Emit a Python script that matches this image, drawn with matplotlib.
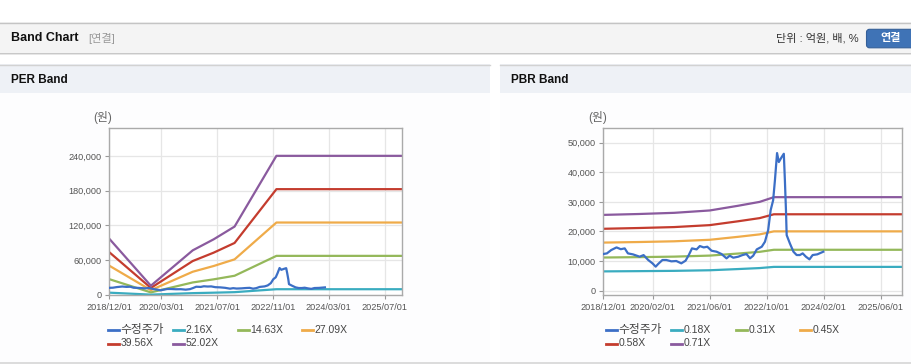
import matplotlib
matplotlib.use('Agg')
import matplotlib.pyplot as plt
from matplotlib.patches import Rectangle, FancyBboxPatch
from matplotlib.lines import Line2D

plt.rcParams['font.family'] = ['Liberation Sans', 'Noto Sans CJK KR', 'DejaVu Sans']

# ---------------- data ----------------
# x positions are months since 2018/12/01
per_tick_months = [0, 15, 31, 47, 63, 79]
per_tick_labels = ['2018/12/01', '2020/03/01', '2021/07/01', '2022/11/01', '2024/03/01', '2025/07/01']
pbr_tick_months = [0, 14, 30, 46, 62, 78]
pbr_tick_labels = ['2018/12/01', '2020/02/01', '2021/06/01', '2022/10/01', '2024/02/01', '2025/06/01']

price_months = [0, 1.1, 2.3, 3.8, 5, 6.1, 7, 8.4, 10.3, 11.4, 12.7, 13.9, 14.8, 15.5, 16.7, 17.8,
                19.2, 20.6, 22, 23.2, 24.1, 25, 26.3, 27.2, 28.3, 29.3, 30.5, 31.9, 33.3, 34.7,
                35.6, 36.6, 38, 39.2, 40.3, 41.3, 42.2, 43.2, 44.6, 45.5, 46.4, 47.1, 47.8, 48.3,
                48.9, 49.4, 50.2, 50.8, 51.1, 51.4, 51.6, 52.5, 53.5, 54.4, 55.3, 56.1, 57, 58,
                58.9, 60.2, 61.9]
price_values = [12360, 12580, 13700, 14600, 14000, 14270, 12580, 12250, 11460, 12000, 10340, 9210,
                8090, 9000, 10340, 10340, 9890, 10000, 9210, 10110, 12020, 14270, 13930, 15060,
                14600, 14830, 13480, 13150, 12360, 10900, 11800, 11120, 11460, 12020, 12360, 10900,
                11800, 13930, 14830, 16520, 20450, 27190, 30560, 37300, 46520, 43480, 45170, 46290,
                37300, 27190, 18760, 15960, 13150, 12020, 12020, 12580, 11460, 10560, 12020, 12250,
                13150]

per_band_months = [0, 12, 24, 30, 36, 48, 84]
per_labels = ['수정주가', '2.16X', '14.63X', '27.09X', '39.56X', '52.02X']
per_band_216 = [4050, 660, 3200, 3990, 4900, 9965, 9965]
per_band_1463 = [27450, 4500, 21650, 27000, 33180, 67490, 67490]
per_band_2709 = [50830, 8330, 40100, 50000, 61450, 124990, 124990]
per_band_3956 = [74220, 12170, 58560, 73010, 89740, 182520, 182520]
per_band_5202 = [97600, 16000, 77000, 96000, 118000, 240000, 240000]
per_yticks = [0, 60000, 120000, 180000, 240000]

pbr_band_months = [0, 10, 20, 30, 38, 44, 48, 84]
pbr_labels = ['수정주가', '0.18X', '0.31X', '0.45X', '0.58X', '0.71X']
pbr_band_018 = [6490, 6570, 6670, 6870, 7280, 7610, 8010, 8010]
pbr_band_031 = [11180, 11310, 11480, 11830, 12530, 13100, 13800, 13800]
pbr_band_045 = [16230, 16420, 16670, 17180, 18190, 19010, 20030, 20030]
pbr_band_058 = [20900, 21160, 21480, 22140, 23450, 24510, 25810, 25810]
pbr_band_071 = [25600, 25900, 26300, 27100, 28700, 30000, 31600, 31600]
pbr_yticks = [0, 10000, 20000, 30000, 40000, 50000]

colors = ['#3c6fc6', '#3aacc0', '#94b85a', '#efab49', '#c43c2e', '#8a5a9e']

# ---------------- figure ----------------
W, H = 912, 364
fig = plt.figure(figsize=(W / 100, H / 100), dpi=100)
fig.patch.set_facecolor('white')
bg = fig.add_axes([0, 0, 1, 1])
bg.set_xlim(0, W)
bg.set_ylim(H, 0)
bg.axis('off')

# top header bar
bg.add_patch(Rectangle((0, 22), W, 31, facecolor='#f4f4f4', edgecolor='none'))
bg.plot([0, W], [22.5, 22.5], color='#c4c4c4', lw=1)
bg.add_patch(Rectangle((0, 52.5), W, 1.2, facecolor='#c8c8c8', edgecolor='none'))
bg.add_patch(Rectangle((0, 53.7), W, 1.5, facecolor='#e6e6e6', edgecolor='none'))
bg.text(11, 38.3, 'Band Chart', fontsize=9, fontweight='bold', color='#111111', va='center', ha='left')
bg.text(88, 38.3, '[연결]', fontsize=8, color='#999999', va='center', ha='left')
bg.text(859, 38.5, '단위 : 억원, 배, %', fontsize=8, color='#333333', va='center', ha='right')
bg.add_patch(FancyBboxPatch((866.5, 29.3), 60, 18.5, boxstyle='round,pad=0,rounding_size=3',
                            facecolor='#3f73b6', edgecolor='#345f98', lw=0.8))
bg.text(891, 38.5, '연결', fontsize=8, fontweight='bold', color='white', va='center', ha='center')

# panels
for x0, x1, title in [(0, 490, 'PER Band'), (500, W, 'PBR Band')]:
    bg.add_patch(Rectangle((x0, 64), x1 - x0, 28.5, facecolor='#eef1f6', edgecolor='none'))
    bg.plot([x0, x1], [64.5, 64.5], color='#d2d2d2', lw=1)
    bg.add_patch(Rectangle((x0, 92.5), x1 - x0, 270, facecolor='#fdfdfe', edgecolor='none'))
    bg.text(x0 + 11.5, 80, title, fontsize=8.5, fontweight='bold', color='#111111', va='center', ha='left')
bg.plot([0, W], [362.5, 362.5], color='#d6d6d6', lw=1.2)


def make_axes(left, right, top, bottom):
    ax = fig.add_axes([left / W, 1 - bottom / H, (right - left) / W, (bottom - top) / H])
    ax.set_facecolor('white')
    for s in ax.spines.values():
        s.set_color('#aaaaaa')
        s.set_linewidth(1)
    ax.grid(True, color='#e6e6e6', lw=0.9)
    ax.set_axisbelow(True)
    ax.tick_params(axis='both', colors='#999999', labelcolor='#555555', labelsize=6.6,
                   length=3, width=0.8, pad=2.5)
    return ax


def draw_legend(x0, labels):
    cols = [0, 65, 130, 194]
    rows = [330, 343.5]
    for i, lab in enumerate(labels):
        r, c = divmod(i, 4)
        xx = x0 + cols[c]
        yy = rows[r]
        bg.add_line(Line2D([xx, xx + 11], [yy, yy], color=colors[i], lw=2))
        size = 8.5 if any('\uac00' <= ch <= '\ud7a3' for ch in lab) else 7.5
        bg.text(xx + 12.5, yy, lab, fontsize=size, color='#444444', va='center', ha='left')


# PER chart
ax1 = make_axes(109, 402, 128, 295)
per_bands = [per_band_216, per_band_1463, per_band_2709, per_band_3956, per_band_5202]
for i, band in enumerate(per_bands):
    ax1.plot(per_band_months, band, color=colors[i + 1], lw=1.6, zorder=2)
ax1.plot(price_months, price_values, color=colors[0], lw=1.6, zorder=3)
ax1.set_xlim(0, 84)
ax1.set_ylim(0, 288000)
ax1.set_xticks(per_tick_months)
ax1.set_xticklabels(per_tick_labels)
ax1.set_yticks(per_yticks)
ax1.set_yticklabels([f'{v:,}' for v in per_yticks])
bg.text(103, 118, '(원)', fontsize=8.5, color='#666666', va='center', ha='center')
draw_legend(108, per_labels)

# PBR chart
ax2 = make_axes(603, 902, 128, 295)
pbr_bands = [pbr_band_018, pbr_band_031, pbr_band_045, pbr_band_058, pbr_band_071]
for i, band in enumerate(pbr_bands):
    ax2.plot(pbr_band_months, band, color=colors[i + 1], lw=1.6, zorder=2)
ax2.plot(price_months, price_values, color=colors[0], lw=1.6, zorder=3)
ax2.set_xlim(0, 84)
ax2.set_ylim(-1500, 55000)
ax2.set_xticks(pbr_tick_months)
ax2.set_xticklabels(pbr_tick_labels)
ax2.set_yticks(pbr_yticks)
ax2.set_yticklabels([f'{v:,}' for v in pbr_yticks])
bg.text(598, 118, '(원)', fontsize=8.5, color='#666666', va='center', ha='center')
draw_legend(606, pbr_labels)

fig.savefig('out.png', dpi=100)
